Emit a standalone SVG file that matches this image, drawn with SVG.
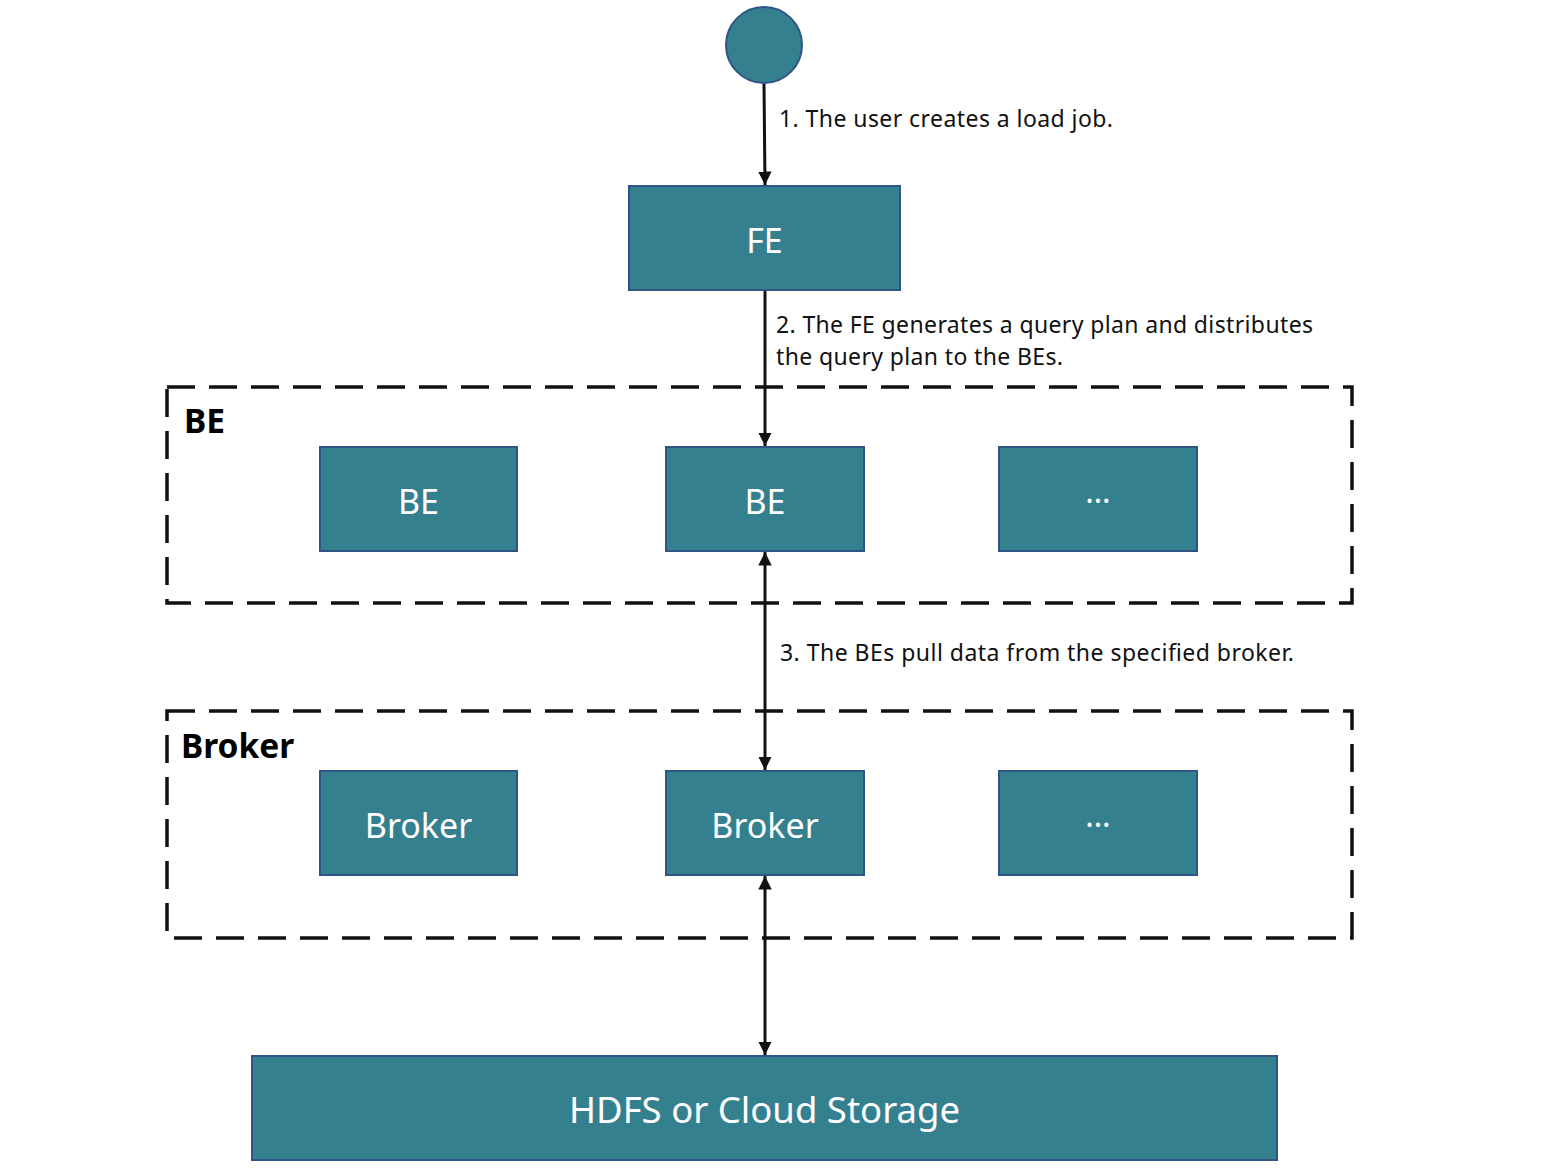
<svg xmlns="http://www.w3.org/2000/svg" width="1544" height="1170" viewBox="0 0 1544 1170">
<style>
.node{fill:#35808F;stroke:#2F5587;stroke-width:2}
.nt{fill:#FFFFFF;font-family:"Noto Sans","Open Sans",sans-serif;font-size:34px;text-anchor:middle;dominant-baseline:central}
.lbl{fill:#111111;font-family:"Noto Sans","Open Sans",sans-serif;font-size:23px}
.grp{fill:none;stroke:#111111;stroke-width:3.5;stroke-dasharray:28 14}
.gt{fill:#000000;font-family:"Noto Sans","Open Sans",sans-serif;font-size:33.5px;font-weight:bold}
.conn{stroke:#111111;stroke-width:3;fill:none}
</style>
<defs>
<marker id="ah" viewBox="0 0 10 10" refX="10" refY="5" markerWidth="4.5" markerHeight="4.5" orient="auto-start-reverse" markerUnits="strokeWidth">
<path d="M0,0 L10,5 L0,10 z" fill="#111111"/>
</marker>
</defs>
<g id="group-be">
<rect class="grp" x="167" y="387" width="1185" height="216"/>
<text class="gt" x="184" y="433">BE</text>
</g>
<g id="group-broker">
<rect class="grp" x="167" y="711" width="1185" height="227"/>
<text class="gt" x="181" y="758">Broker</text>
</g>
<g id="user"><circle class="node" cx="764" cy="45" r="38"/></g>
<g id="fe"><rect class="node" x="629" y="186" width="271" height="104"/><text class="nt" x="764.5" y="240">FE</text></g>
<g id="be1"><rect class="node" x="320" y="447" width="197" height="104"/><text class="nt" x="418.5" y="501">BE</text></g>
<g id="be2"><rect class="node" x="666" y="447" width="198" height="104"/><text class="nt" x="765" y="501">BE</text></g>
<g id="be3"><rect class="node" x="999" y="447" width="198" height="104"/><text class="nt" x="1098" y="490" style="font-size:32px">…</text></g>
<g id="broker1"><rect class="node" x="320" y="771" width="197" height="104"/><text class="nt" x="418.5" y="825">Broker</text></g>
<g id="broker2"><rect class="node" x="666" y="771" width="198" height="104"/><text class="nt" x="765" y="825">Broker</text></g>
<g id="broker3"><rect class="node" x="999" y="771" width="198" height="104"/><text class="nt" x="1098" y="814" style="font-size:32px">…</text></g>
<g id="storage"><rect class="node" x="252" y="1056" width="1025" height="104"/><text class="nt" x="764.5" y="1109" style="font-size:36.5px">HDFS or Cloud Storage</text></g>
<g id="connectors">
<line class="conn" x1="764" y1="84" x2="765" y2="185" marker-end="url(#ah)"/>
<line class="conn" x1="765" y1="291" x2="765" y2="446" marker-end="url(#ah)"/>
<line class="conn" x1="765" y1="552" x2="765" y2="770" marker-start="url(#ah)" marker-end="url(#ah)"/>
<line class="conn" x1="765" y1="876" x2="765" y2="1055" marker-start="url(#ah)" marker-end="url(#ah)"/>
<text class="lbl" x="779" y="127" textLength="334" lengthAdjust="spacing">1. The user creates a load job.</text>
<text class="lbl" x="776" y="333" textLength="537" lengthAdjust="spacing">2. The FE generates a query plan and distributes</text>
<text class="lbl" x="776" y="365" textLength="287" lengthAdjust="spacing">the query plan to the BEs.</text>
<text class="lbl" x="780" y="661" textLength="514" lengthAdjust="spacing">3. The BEs pull data from the specified broker.</text>
</g>
</svg>
